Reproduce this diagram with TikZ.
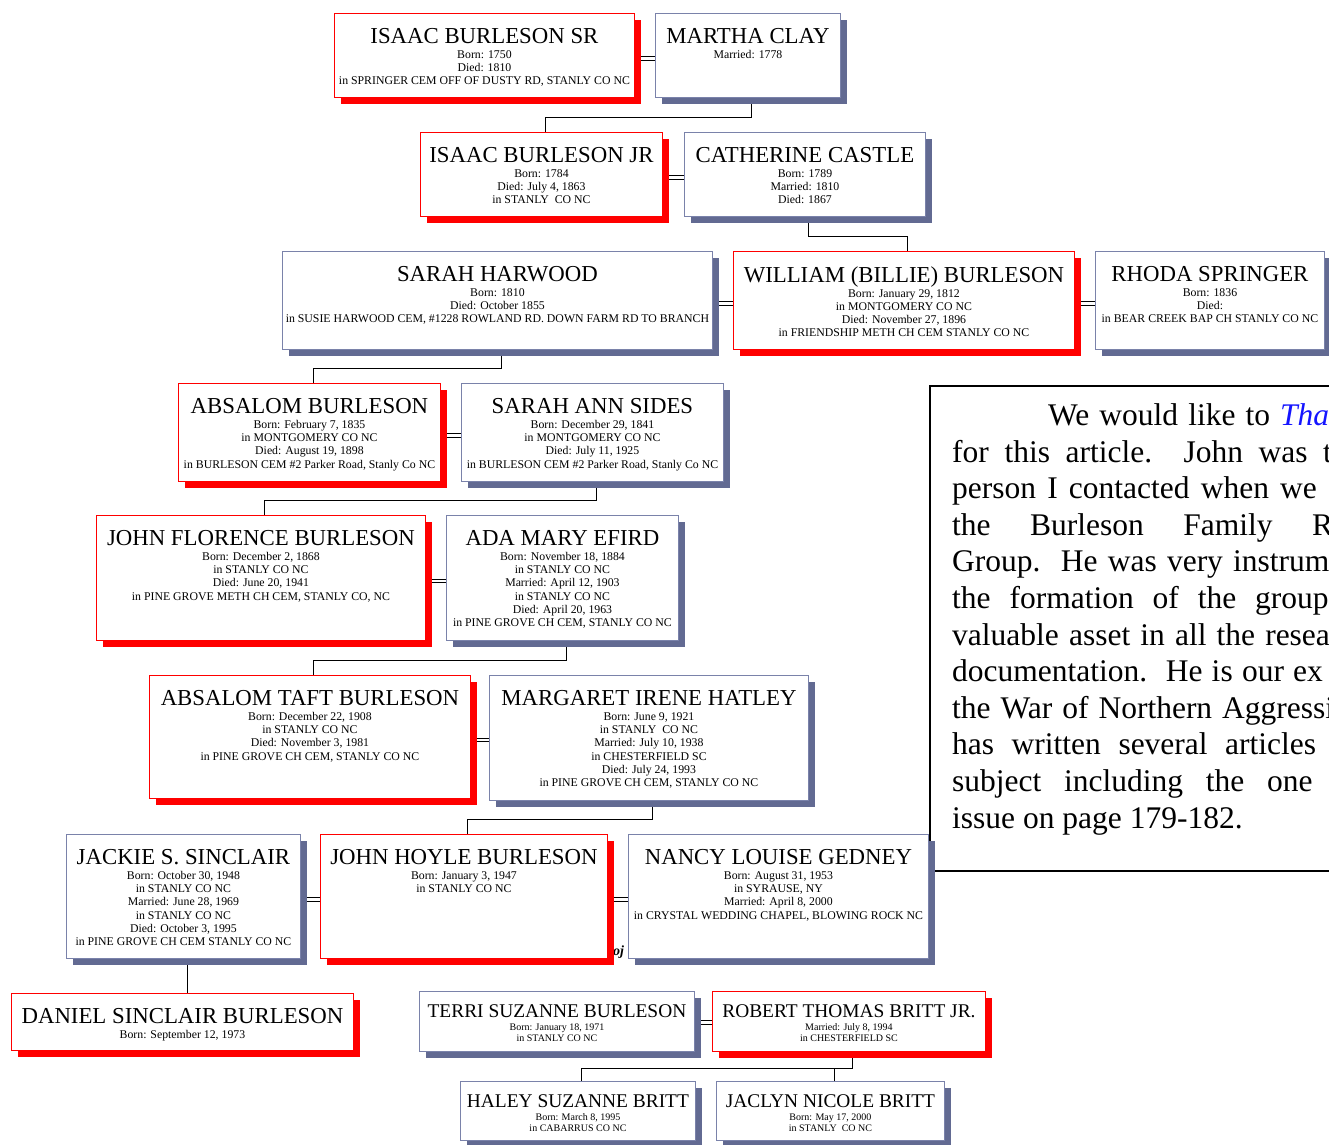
\documentclass[tikz,border=0pt]{standalone}
\usepackage{fontspec}
\setmainfont{Liberation Serif}
\usepackage{tikz}
\usetikzlibrary{positioning, shadows, backgrounds}

\definecolor{shadegrey}{RGB}{98,106,146}
\definecolor{linegrey}{RGB}{122,130,170}
\definecolor{linkblue}{RGB}{20,20,255}

\newcommand{\nmfont}{\fontsize{22.8}{26}\selectfont}
\newcommand{\detfont}{\fontsize{11.8}{13.3}\selectfont}
\newcommand{\nmsmall}{\fontsize{19.4}{22}\selectfont}
\newcommand{\detsmall}{\fontsize{10}{11}\selectfont}
\newcommand{\bodyfont}{\fontsize{31.5}{36.6}\selectfont}

\tikzset{
  box/.style={anchor=north west, inner sep=0pt, fill=white, line width=0.9pt},
  redbox/.style={box, draw=red,
    drop shadow={fill=red, opacity=1, shadow xshift=7pt, shadow yshift=-7pt}},
  greybox/.style={box, draw=linegrey,
    drop shadow={fill=shadegrey, opacity=1, shadow xshift=7pt, shadow yshift=-7pt}},
  txt/.style={inner sep=0pt, align=center, font=\detfont},
  txtsmall/.style={inner sep=0pt, align=center, font=\detsmall},
  para/.style={inner sep=0pt, anchor=base west, font=\bodyfont},
  link/.style={black, line width=0.9pt},
  marry/.style={black, line width=1pt, double=white, double distance=2.4pt}
}

\begin{document}
\begin{tikzpicture}[x=1pt, y=-1pt]
    \useasboundingbox (0,0) rectangle (1329,1144);
    \clip (0,0) rectangle (1329,1144);

    % Tekst po prawej
    \draw[black, line width=1.6pt] (930,386) rectangle (1345,871);
    \node[para] (l1) at (1048,425) {\hbox to 232pt{We\hfill would\hfill like\hfill to\hfill}\textcolor{linkblue}{\textit{Tha}}};
    \node[para] (l2) at (952,462) {\hbox to 371pt{for\hfill this\hfill article.\hfill\hfill John\hfill was\hfill}t};
    \node[para] (l3) at (952,498.6) {\hbox to 328pt{person\hfill I\hfill contacted\hfill when\hfill}we};
    \node[para] (l4) at (952,535.2) {\hbox to 360pt{the\hfill Burleson\hfill Family\hfill}R};
    \node[para] (l5) at (952,571.8) {\hbox to 281pt{Group.\hfill\hfill He\hfill was\hfill very\hfill}instrum};
    \node[para] (l6) at (952,608.4) {\hbox to 303pt{the\hfill formation\hfill of\hfill the\hfill}group};
    \node[para] (l7) at (952,645) {\hbox to 313pt{valuable\hfill asset\hfill in\hfill all\hfill the\hfill}resea};
    \node[para] (l8) at (952,681.6) {\hbox to 341pt{documentation.\hfill\hfill He\hfill is\hfill our\hfill}ex};
    \node[para] (l9) at (952,718.2) {\hbox to 270pt{the\hfill War\hfill of\hfill Northern\hfill}Aggressi};
    \node[para] (l10) at (952,754.8) {\hbox to 273pt{has\hfill written\hfill several\hfill}articles};
    \node[para] (l11) at (952,791.4) {\hbox to 315pt{subject\hfill including\hfill the\hfill}one};
    \node[para] (l12) at (952,828) {issue on page 179-182.};
    \node[inner sep=0pt, anchor=base west, font=\fontsize{14}{16}\selectfont\bfseries\itshape] (frag) at (613,955) {oj};

    % Pokolenie 1
    \node[redbox, minimum width=300, minimum height=84] (isaacsr) at (334,13) {};
    \node[txt, below=15pt of isaacsr.north] (isaacsr-t) {{\nmfont ISAAC BURLESON SR}\\[1.7pt] Born: 1750\\ Died: 1810\\ in SPRINGER CEM OFF OF DUSTY RD, STANLY CO NC};
    \node[greybox, minimum width=185, minimum height=84] (martha) at (655,13) {};
    \node[txt, below=15pt of martha.north] (martha-t) {{\nmfont MARTHA CLAY}\\[1.7pt] Married: 1778};

    % Pokolenie 2
    \node[redbox, minimum width=242, minimum height=84] (isaacjr) at (420,132) {};
    \node[txt, below=15pt of isaacjr.north] (isaacjr-t) {{\nmfont ISAAC BURLESON JR}\\[1.7pt] Born: 1784\\ Died: July 4, 1863\\ in STANLY\ \ CO NC};
    \node[greybox, minimum width=241, minimum height=84] (catherine) at (684,132) {};
    \node[txt, below=15pt of catherine.north] (catherine-t) {{\nmfont CATHERINE CASTLE}\\[1.7pt] Born: 1789\\ Married: 1810\\ Died: 1867};

    % Pokolenie 3
    \node[greybox, minimum width=430, minimum height=98] (sarahh) at (282,251) {};
    \node[txt, below=15pt of sarahh.north] (sarahh-t) {{\nmfont SARAH HARWOOD}\\[1.7pt] Born: 1810\\ Died: October 1855\\ in SUSIE HARWOOD CEM, \#1228 ROWLAND RD. DOWN FARM RD TO BRANCH};
    \node[redbox, minimum width=341, minimum height=98] (william) at (733,251) {};
    \node[txt, below=15pt of william.north] (william-t) {{\nmfont WILLIAM (BILLIE) BURLESON}\\[1.7pt] Born: January 29, 1812\\ in MONTGOMERY CO NC\\ Died: November 27, 1896\\ in FRIENDSHIP METH CH CEM STANLY CO NC};
    \node[greybox, minimum width=229, minimum height=98] (rhoda) at (1095,251) {};
    \node[txt, below=15pt of rhoda.north] (rhoda-t) {{\nmfont RHODA SPRINGER}\\[1.7pt] Born: 1836\\ Died:\\ in BEAR CREEK BAP CH STANLY CO NC};

    % Pokolenie 4
    \node[redbox, minimum width=262, minimum height=98] (absalom) at (178,383) {};
    \node[txt, below=15pt of absalom.north] (absalom-t) {{\nmfont ABSALOM BURLESON}\\[1.7pt] Born: February 7, 1835\\ in MONTGOMERY CO NC\\ Died: August 19, 1898\\ in BURLESON CEM \#2 Parker Road, Stanly Co NC};
    \node[greybox, minimum width=262, minimum height=98] (sarahann) at (461,383) {};
    \node[txt, below=15pt of sarahann.north] (sarahann-t) {{\nmfont SARAH ANN SIDES}\\[1.7pt] Born: December 29, 1841\\ in MONTGOMERY CO NC\\ Died: July 11, 1925\\ in BURLESON CEM \#2 Parker Road, Stanly Co NC};

    % Pokolenie 5
    \node[redbox, minimum width=329, minimum height=125] (johnf) at (96,515) {};
    \node[txt, below=15pt of johnf.north] (johnf-t) {{\nmfont JOHN FLORENCE BURLESON}\\[1.7pt] Born: December 2, 1868\\ in STANLY CO NC\\ Died: June 20, 1941\\ in PINE GROVE METH CH CEM, STANLY CO, NC};
    \node[greybox, minimum width=232, minimum height=125] (ada) at (446,515) {};
    \node[txt, below=15pt of ada.north] (ada-t) {{\nmfont ADA MARY EFIRD}\\[1.7pt] Born: November 18, 1884\\ in STANLY CO NC\\ Married: April 12, 1903\\ in STANLY CO NC\\ Died: April 20, 1963\\ in PINE GROVE CH CEM, STANLY CO NC};

    % Pokolenie 6
    \node[redbox, minimum width=321, minimum height=123] (absalomt) at (149,675) {};
    \node[txt, below=15pt of absalomt.north] (absalomt-t) {{\nmfont ABSALOM TAFT BURLESON}\\[1.7pt] Born: December 22, 1908\\ in STANLY CO NC\\ Died: November 3, 1981\\ in PINE GROVE CH CEM, STANLY CO NC};
    \node[greybox, minimum width=319, minimum height=125] (margaret) at (489,675) {};
    \node[txt, below=15pt of margaret.north] (margaret-t) {{\nmfont MARGARET IRENE HATLEY}\\[1.7pt] Born: June 9, 1921\\ in STANLY\ \ CO NC\\ Married: July 10, 1938\\ in CHESTERFIELD SC\\ Died: July 24, 1993\\ in PINE GROVE CH CEM, STANLY CO NC};

    % Pokolenie 7
    \node[greybox, minimum width=234, minimum height=124] (jackie) at (66,834) {};
    \node[txt, below=15pt of jackie.north] (jackie-t) {{\nmfont JACKIE S. SINCLAIR}\\[1.7pt] Born: October 30, 1948\\ in STANLY CO NC\\ Married: June 28, 1969\\ in STANLY CO NC\\ Died: October 3, 1995\\ in PINE GROVE CH CEM STANLY CO NC};
    \node[redbox, minimum width=287, minimum height=124] (johnh) at (320,834) {};
    \node[txt, below=15pt of johnh.north] (johnh-t) {{\nmfont JOHN HOYLE BURLESON}\\[1.7pt] Born: January 3, 1947\\ in STANLY CO NC};
    \node[greybox, minimum width=300, minimum height=124] (nancy) at (628,834) {};
    \node[txt, below=15pt of nancy.north] (nancy-t) {{\nmfont NANCY LOUISE GEDNEY}\\[1.7pt] Born: August 31, 1953\\ in SYRAUSE, NY\\ Married: April 8, 2000\\ in CRYSTAL WEDDING CHAPEL, BLOWING ROCK NC};

    % Pokolenie 8
    \node[redbox, minimum width=342, minimum height=57] (daniel) at (11,993) {};
    \node[txt, below=15pt of daniel.north] (daniel-t) {{\nmfont DANIEL SINCLAIR BURLESON}\\[1.7pt] Born: September 12, 1973};
    \node[greybox, minimum width=275, minimum height=60] (terri) at (419,991) {};
    \node[txtsmall, below=13pt of terri.north] (terri-t) {{\nmsmall TERRI SUZANNE BURLESON}\\[2pt] Born: January 18, 1971\\ in STANLY CO NC};
    \node[redbox, minimum width=273, minimum height=60] (robert) at (712,991) {};
    \node[txtsmall, below=13pt of robert.north] (robert-t) {{\nmsmall ROBERT THOMAS BRITT JR.}\\[2pt] Married: July 8, 1994\\ in CHESTERFIELD SC};

    % Pokolenie 9
    \node[greybox, minimum width=235, minimum height=59] (haley) at (460,1081) {};
    \node[txtsmall, below=13pt of haley.north] (haley-t) {{\nmsmall HALEY SUZANNE BRITT}\\[2pt] Born: March 8, 1995\\ in CABARRUS CO NC};
    \node[greybox, minimum width=228, minimum height=59] (jaclyn) at (716,1081) {};
    \node[txtsmall, below=13pt of jaclyn.north] (jaclyn-t) {{\nmsmall JACLYN NICOLE BRITT}\\[2pt] Born: May 17, 2000\\ in STANLY\ \ CO NC};

    % Polaczenia
    \begin{scope}[on background layer]
    \draw[marry] ([yshift=-3pt]isaacsr.east) -- ([yshift=-3pt]isaacsr.east -| martha.west);
    \draw[marry] ([yshift=-3pt]isaacjr.east) -- ([yshift=-3pt]isaacjr.east -| catherine.west);
    \draw[marry] ([yshift=-3pt]sarahh.east) -- ([yshift=-3pt]sarahh.east -| william.west);
    \draw[marry] ([yshift=-3pt]william.east) -- ([yshift=-3pt]william.east -| rhoda.west);
    \draw[marry] ([yshift=-3pt]absalom.east) -- ([yshift=-3pt]absalom.east -| sarahann.west);
    \draw[marry] ([yshift=-3pt]johnf.east) -- ([yshift=-3pt]johnf.east -| ada.west);
    \draw[marry] ([yshift=-3pt]absalomt.east) -- ([yshift=-3pt]absalomt.east -| margaret.west);
    \draw[marry] ([yshift=-3pt]jackie.east) -- ([yshift=-3pt]jackie.east -| johnh.west);
    \draw[marry] ([yshift=-3pt]johnh.east) -- ([yshift=-3pt]johnh.east -| nancy.west);
    \draw[marry] ([yshift=-1pt]terri.east) -- ([yshift=-1pt]terri.east -| robert.west);

    \draw[link] ([xshift=3.5pt]martha.south) -- ++(0,20) -| ([xshift=3.5pt]isaacjr.north);
    \draw[link] ([xshift=3.5pt]catherine.south) -- ++(0,20) -| ([xshift=3.5pt]william.north);
    \draw[link] ([xshift=3.5pt]sarahh.south) -- ++(0,19) -| ([xshift=3.5pt]absalom.north);
    \draw[link] ([xshift=3.5pt]sarahann.south) -- ++(0,19) -| ([xshift=3.5pt]johnf.north);
    \draw[link] ([xshift=3.5pt]ada.south) -- ++(0,20) -| ([xshift=3.5pt]absalomt.north);
    \draw[link] ([xshift=3.5pt]margaret.south) -- ++(0,19) -| ([xshift=3.5pt]johnh.north);
    \draw[link] ([xshift=3.5pt]jackie.south) -- ([xshift=3.5pt]jackie.south |- daniel.north);
    \draw[link] ([xshift=3.5pt]robert.south) -- ++(0,17) coordinate (kids) -| ([xshift=3.5pt]haley.north);
    \draw[link] (kids) -| ([xshift=3.5pt]jaclyn.north);
    \end{scope}
\end{tikzpicture}
\end{document}
